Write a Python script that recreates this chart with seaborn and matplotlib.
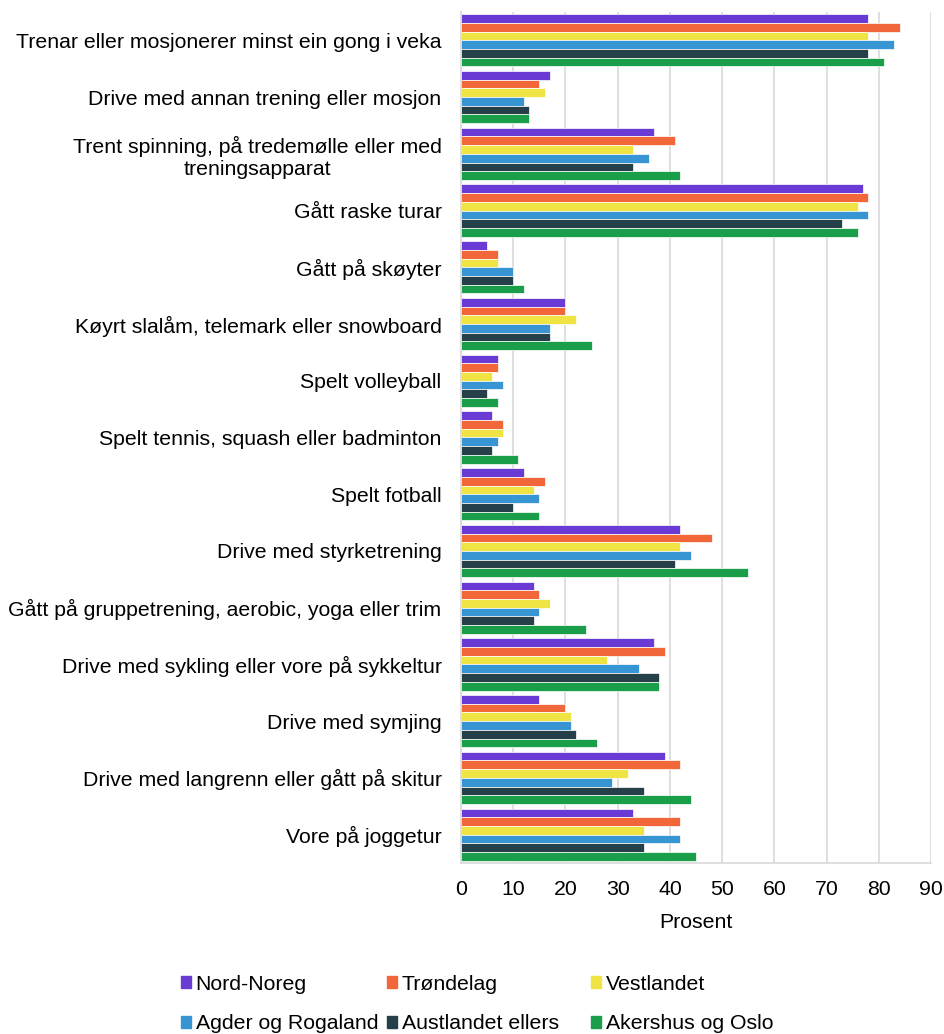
import pandas as pd
import numpy as np
import matplotlib
matplotlib.use('Agg')
import matplotlib.pyplot as plt
import seaborn as sns

# Activities (top to bottom)
activities = [
    'Trenar eller mosjonerer minst ein gong i veka',
    'Drive med annan trening eller mosjon',
    'Trent spinning, på tredemølle eller med\ntreningsapparat',
    'Gått raske turar',
    'Gått på skøyter',
    'Køyrt slalåm, telemark eller snowboard',
    'Spelt volleyball',
    'Spelt tennis, squash eller badminton',
    'Spelt fotball',
    'Drive med styrketrening',
    'Gått på gruppetrening, aerobic, yoga eller trim',
    'Drive med sykling eller vore på sykkeltur',
    'Drive med symjing',
    'Drive med langrenn eller gått på skitur',
    'Vore på joggetur',
]

regions = ['Nord-Noreg', 'Trøndelag', 'Vestlandet',
           'Agder og Rogaland', 'Austlandet ellers', 'Akershus og Oslo']

nord_noreg = [78, 17, 37, 77, 5, 20, 7, 6, 12, 42, 14, 37, 15, 39, 33]
trondelag = [84, 15, 41, 78, 7, 20, 7, 8, 16, 48, 15, 39, 20, 42, 42]
vestlandet = [78, 16, 33, 76, 7, 22, 6, 8, 14, 42, 17, 28, 21, 32, 35]
agder_rogaland = [83, 12, 36, 78, 10, 17, 8, 7, 15, 44, 15, 34, 21, 29, 42]
austlandet = [78, 13, 33, 73, 10, 17, 5, 6, 10, 41, 14, 38, 22, 35, 35]
akershus_oslo = [81, 13, 42, 76, 12, 25, 7, 11, 15, 55, 24, 38, 26, 44, 45]

colors = ['#6A3BD4', '#F2673A', '#EFE443', '#3695D2', '#254048', '#1B9E4A']

series = [nord_noreg, trondelag, vestlandet, agder_rogaland, austlandet, akershus_oslo]
df = pd.DataFrame({
    'aktivitet': np.tile(activities, len(regions)),
    'region': np.repeat(regions, len(activities)),
    'prosent': np.concatenate(series),
})

sns.set_style('white')
plt.rcParams['font.family'] = ['Liberation Sans', 'DejaVu Sans']
plt.rcParams['text.color'] = 'black'
plt.rcParams['xtick.color'] = 'black'
plt.rcParams['ytick.color'] = 'black'
plt.rcParams['axes.labelcolor'] = 'black'

fs = 15.3

fig = plt.figure(figsize=(9.44, 10.34), dpi=100)
ax = fig.add_axes([0.4884, 0.1654, 0.4978, 0.823])

sns.barplot(data=df, y='aktivitet', x='prosent', hue='region',
            order=activities, hue_order=regions, palette=colors,
            saturation=1, orient='h', width=0.92,
            edgecolor='white', linewidth=0.5, legend=False, ax=ax)

ax.set_xlim(0, 90)
ax.set_xticks(range(0, 91, 10))
ax.set_ylim(len(activities) - 0.5, -0.5)
ax.set_yticks(range(len(activities)), activities,
              multialignment='center', linespacing=1.18)
ax.set_xlabel('Prosent', fontsize=fs, labelpad=10)
ax.set_ylabel('')
ax.tick_params(axis='x', labelsize=fs, pad=12, length=0)
ax.tick_params(axis='y', labelsize=fs, pad=14, length=0)

ax.grid(axis='x', color='#d9d9d9', linewidth=1.2)
ax.grid(axis='y', visible=False)
ax.set_axisbelow(True)
for side in ['top', 'right']:
    ax.spines[side].set_visible(False)
for side in ['left', 'bottom']:
    ax.spines[side].set_color('#d9d9d9')
    ax.spines[side].set_linewidth(1.2)

# Legend: three columns, two rows, laid out like the original
col_x = [181 / 944, 387 / 944, 591 / 944]
for i, x in enumerate(col_x):
    idx = [i, i + 3]
    handles = [plt.Rectangle((0, 0), 1, 1, color=colors[j]) for j in idx]
    fig.legend(handles, [regions[j] for j in idx], loc='upper left',
               bbox_to_anchor=(x, 0.0575), frameon=False, fontsize=fs,
               handlelength=0.47, handleheight=0.47, handletextpad=0.22,
               labelspacing=0.98, borderaxespad=0, borderpad=0)

fig.savefig('out.png', dpi=100)
